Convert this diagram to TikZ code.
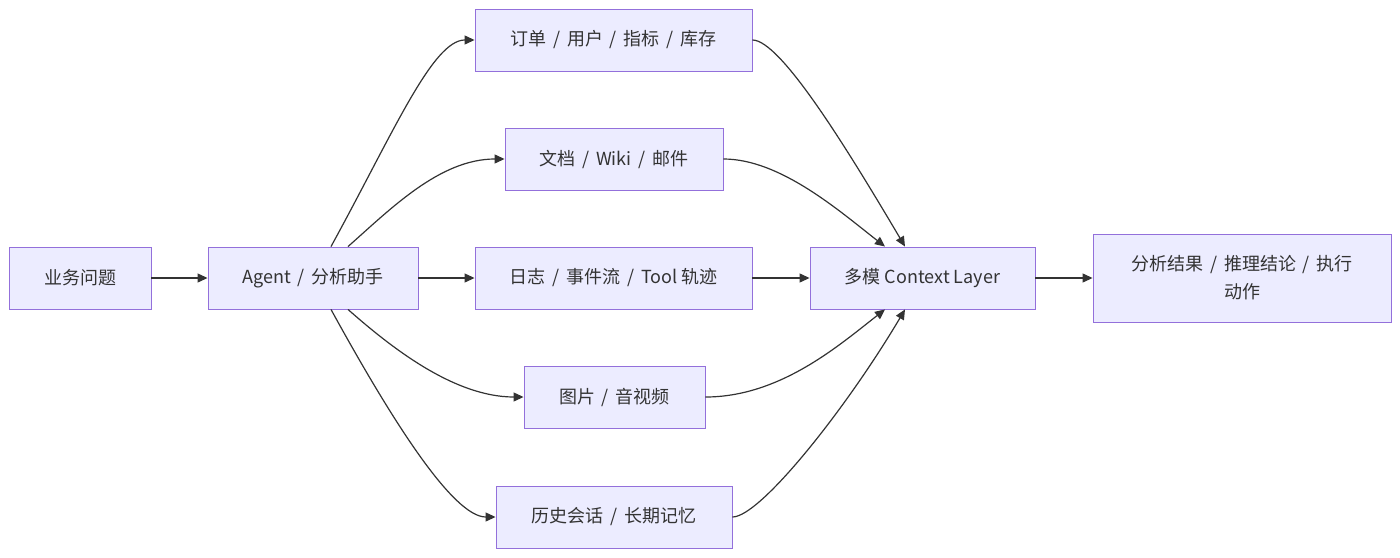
\documentclass[tikz,border=0pt]{standalone}
\usepackage{fontspec}
\setmainfont{Noto Sans CJK SC}
\usetikzlibrary{arrows.meta}
\definecolor{boxfill}{HTML}{ECECFF}
\definecolor{boxline}{HTML}{9370DB}
\definecolor{ink}{HTML}{333333}
\newcommand{\sep}{\hspace{0.38em}/\hspace{0.38em}}
\begin{document}
\begin{tikzpicture}[x=1pt,y=1pt,
  box/.style={draw=boxline,fill=boxfill,line width=0.9pt,minimum height=62pt,inner sep=0pt,text=ink,font=\fontsize{18}{28}\selectfont,align=center},
  arr/.style={draw=ink,line width=1.2pt,-{Triangle[length=10pt,width=9pt]}}]
\useasboundingbox (0,0) rectangle (1400,-557);
\node[box,minimum width=142pt] (A) at (80,-278) {业务问题};
\node[box,minimum width=210pt] (B) at (313,-278) {Agent\sep 分析助手};
\node[box,minimum width=277pt] (C1) at (613.5,-40) {订单\sep 用户\sep 指标\sep 库存};
\node[box,minimum width=218pt] (C2) at (614,-159) {文档\sep Wiki\sep 邮件};
\node[box,minimum width=277pt] (C3) at (613.5,-278) {日志\sep 事件流\sep Tool 轨迹};
\node[box,minimum width=181pt] (C4) at (614.5,-397) {图片\sep 音视频};
\node[box,minimum width=236pt] (C5) at (614,-517) {历史会话\sep 长期记忆};
\node[box,minimum width=225pt] (D) at (922.5,-278) {多模 Context Layer};
\node[box,minimum width=298pt,minimum height=88pt] (E) at (1242,-278) {分析结果\sep 推理结论\sep 执行\\动作};
\draw[arr] (A) -- (B);
\draw[arr] (B) -- (C3);
\draw[arr] (C3) -- (D);
\draw[arr] (D) -- (E);
\draw[arr] ([xshift=18pt]B.north) .. controls +(62,113) and +(-42,0) .. (C1.west);
\draw[arr] ([xshift=35pt]B.north) .. controls +(42,37) and +(-65,0) .. (C2.west);
\draw[arr] ([xshift=35pt]B.south) .. controls +(42,-37) and +(-70,0) .. (C4.west);
\draw[arr] ([xshift=18pt]B.south) .. controls +(62,-113) and +(-42,0) .. (C5.west);
\draw[arr] (C1.east) .. controls +(28,0) and +(-58,98) .. ([xshift=-17.5pt]D.north);
\draw[arr] (C2.east) .. controls +(57,0) and +(-45,35) .. ([xshift=-37.5pt]D.north);
\draw[arr] (C4.east) .. controls +(75,0) and +(-45,-35) .. ([xshift=-37.5pt]D.south);
\draw[arr] (C5.east) .. controls +(28,0) and +(-58,-98) .. ([xshift=-17.5pt]D.south);
\end{tikzpicture}
\end{document}
